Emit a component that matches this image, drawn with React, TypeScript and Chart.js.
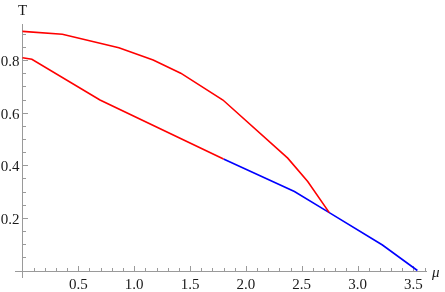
import React, { useEffect, useRef } from 'react';
import { Chart, registerables } from 'chart.js';

Chart.register(...registerables);

// Upper red branch
const upperMu = [0, 0.357, 0.863, 1.17, 1.417, 1.795, 2.375, 2.554, 2.747];
const upperT = [0.909, 0.898, 0.847, 0.8, 0.75, 0.648, 0.427, 0.338, 0.22];
// Lower red branch
const lowerRedMu = [0, 0.084, 0.694, 1.8];
const lowerRedT = [0.809, 0.803, 0.648, 0.424];
// Blue branch
const blueMu = [1.8, 2.435, 2.747, 3.223, 3.536];
const blueT = [0.424, 0.3, 0.22, 0.097, 0];

const xTickLabels = ['0.5', '1.0', '1.5', '2.0', '2.5', '3.0', '3.5'];
const yTickLabels = ['0.2', '0.4', '0.6', '0.8'];

const X_MIN = -0.067;
const X_MAX = 3.622;
const Y_MIN = -0.0285;
const Y_MAX = 0.937;

const AXIS_COLOR = '#9a9a9a';
const TEXT_COLOR = '#1a1a1a';
const SERIF = '"Liberation Serif", "Times New Roman", "DejaVu Serif", serif';

const toPoints = (xs: number[], ys: number[]) => xs.map((x, i) => ({ x, y: ys[i] }));

const axesPlugin = {
  id: 'mathAxes',
  beforeDatasetsDraw(chart: any) {
    const ctx = chart.ctx as CanvasRenderingContext2D;
    const xs = chart.scales.x;
    const ys = chart.scales.y;
    const { left, right, top, bottom } = chart.chartArea;
    const x0 = xs.getPixelForValue(0);
    const y0 = ys.getPixelForValue(0);
    ctx.save();
    ctx.strokeStyle = AXIS_COLOR;
    ctx.lineWidth = 1;
    ctx.beginPath();
    ctx.moveTo(left, Math.round(y0) + 0.5);
    ctx.lineTo(right, Math.round(y0) + 0.5);
    ctx.moveTo(Math.round(x0) + 0.5, top);
    ctx.lineTo(Math.round(x0) + 0.5, bottom);
    ctx.stroke();
    const xMajor = xTickLabels.map(parseFloat);
    ctx.beginPath();
    for (let i = 1; i <= 36; i++) {
      const v = i / 10;
      const px = Math.round(xs.getPixelForValue(v)) + 0.5;
      const isMajor = xMajor.some((m) => Math.abs(m - v) < 1e-6);
      const len = isMajor ? 5 : 3;
      ctx.moveTo(px, Math.round(y0));
      ctx.lineTo(px, Math.round(y0) - len);
    }
    const yMajor = yTickLabels.map(parseFloat);
    for (let i = 1; i <= 18; i++) {
      const v = i / 20;
      const py = Math.round(ys.getPixelForValue(v)) + 0.5;
      const isMajor = yMajor.some((m) => Math.abs(m - v) < 1e-6);
      const len = isMajor ? 5 : 3;
      ctx.moveTo(Math.round(x0) + 1, py);
      ctx.lineTo(Math.round(x0) + 1 + len, py);
    }
    ctx.stroke();
    ctx.fillStyle = TEXT_COLOR;
    ctx.font = '15px ' + SERIF;
    ctx.textBaseline = 'alphabetic';
    ctx.textAlign = 'center';
    xTickLabels.forEach((lab) => {
      const px = xs.getPixelForValue(parseFloat(lab));
      ctx.fillText(lab, px, y0 + 18);
    });
    ctx.textAlign = 'right';
    yTickLabels.forEach((lab) => {
      const py = ys.getPixelForValue(parseFloat(lab));
      ctx.fillText(lab, x0 - 3, py + 6);
    });
    ctx.font = '15px ' + SERIF;
    ctx.textAlign = 'center';
    ctx.fillText('T', x0, 15);
    ctx.font = 'italic 15px ' + SERIF;
    ctx.textAlign = 'left';
    ctx.fillText('μ', right + 5, y0 + 6);
    ctx.restore();
  },
};

export default function App() {
  const ref = useRef<HTMLCanvasElement | null>(null);
  useEffect(() => {
    document.body.style.margin = '0';
    const canvas = ref.current;
    if (!canvas) return;
    let chart: Chart | null = null;
    let cancelled = false;
    const make = () => {
      if (cancelled || chart) return;
      chart = new Chart(canvas, {
        type: 'line',
        data: {
          datasets: [
            { data: toPoints(upperMu, upperT), borderColor: 'rgb(255,0,0)', borderWidth: 1.6, pointRadius: 0, fill: false, tension: 0 },
            { data: toPoints(lowerRedMu, lowerRedT), borderColor: 'rgb(255,0,0)', borderWidth: 1.6, pointRadius: 0, fill: false, tension: 0 },
            { data: toPoints(blueMu, blueT), borderColor: 'rgb(0,0,255)', borderWidth: 1.6, pointRadius: 0, fill: false, tension: 0 },
          ],
        },
        options: {
          responsive: false,
          animation: false,
          devicePixelRatio: 1,
          layout: { padding: { left: 15, right: 18, top: 24, bottom: 14 } },
          plugins: { legend: { display: false }, tooltip: { enabled: false } },
          scales: {
            x: { type: 'linear', min: X_MIN, max: X_MAX, display: false },
            y: { type: 'linear', min: Y_MIN, max: Y_MAX, display: false },
          },
        },
        plugins: [axesPlugin],
      });
    };
    const fonts: any = (document as any).fonts;
    if (fonts && fonts.load) {
      Promise.all([
        fonts.load('15px "Liberation Serif"', '0.5T'),
        fonts.load('italic 15px "Liberation Serif"', 'μ'),
      ]).then(make, make);
    } else {
      make();
    }
    return () => {
      cancelled = true;
      if (chart) chart.destroy();
    };
  }, []);
  return (
    <div style={{ width: 445, height: 292 }}>
      <span style={{ position: 'absolute', left: -1000, fontFamily: SERIF }}>0.5 T <i>μ</i></span>
      <canvas ref={ref} width={445} height={292} style={{ display: 'block' }} />
    </div>
  );
}
